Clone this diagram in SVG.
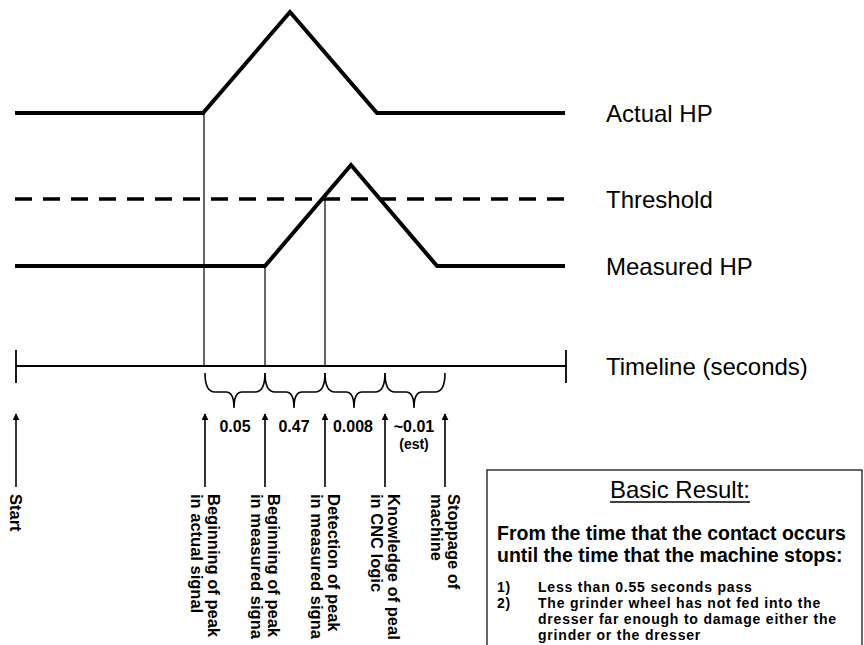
<svg xmlns="http://www.w3.org/2000/svg" width="864" height="645" viewBox="0 0 864 645">
<defs>
<style>
.sig{fill:none;stroke:#000;stroke-width:4;stroke-linejoin:miter}
.thr{fill:none;stroke:#000;stroke-width:3.5;stroke-dasharray:17 11}
.thin{fill:none;stroke:#000;stroke-width:1.2}
.tl{fill:none;stroke:#000;stroke-width:1.8}
.br{fill:none;stroke:#000;stroke-width:1.6}
.arr{fill:none;stroke:#000;stroke-width:1.6;marker-end:url(#ah)}
.lbl{font-family:"Liberation Sans",Arial,sans-serif;font-size:24px;fill:#000}
.val{font-family:"Liberation Sans",Arial,sans-serif;font-size:16px;font-weight:bold;fill:#000;text-anchor:middle}
.vt{font-family:"Liberation Sans",Arial,sans-serif;font-size:16.5px;font-weight:bold;fill:#000}
.bx{font-family:"Liberation Sans",Arial,sans-serif;font-weight:bold;fill:#000}
.li{font-family:"Liberation Sans",Arial,sans-serif;font-weight:bold;fill:#000;font-size:14px;letter-spacing:0.8px}
</style>
<marker id="ah" viewBox="0 0 10 10" refX="9" refY="5" markerWidth="7" markerHeight="7" markerUnits="userSpaceOnUse" orient="auto">
<path d="M0,0 L10,5 L0,10 z" fill="#000"/>
</marker>
</defs>
<rect width="864" height="645" fill="#fff"/>

<g id="actual-hp">
<polyline class="sig" points="15,113 203,113 290,12 377,113 565,113"/>
<text class="lbl" x="606" y="122">Actual HP</text>
</g>
<g id="threshold">
<line class="thr" x1="15" y1="199" x2="565" y2="199"/>
<text class="lbl" x="606" y="208">Threshold</text>
</g>
<g id="measured-hp">
<polyline class="sig" points="15,266 265,266 351,165 437,266 565,266"/>
<text class="lbl" x="606" y="275">Measured HP</text>
</g>
<g id="timeline">
<line class="tl" x1="16" y1="366" x2="566" y2="366"/>
<line class="tl" x1="16" y1="350" x2="16" y2="383"/>
<line class="tl" x1="566" y1="350" x2="566" y2="383"/>
<text class="lbl" x="606" y="375">Timeline (seconds)</text>
</g>

<g id="connectors">
<line class="thin" x1="204" y1="113" x2="204" y2="366"/>
<line class="thin" x1="265" y1="266" x2="265" y2="366"/>
<line class="thin" x1="325" y1="199" x2="325" y2="366"/>
<path class="br" d="M205,373 Q205,392 215,392 L226,392 Q234,392 234,408 Q234,392 242,392 L255,392 Q265,392 265,373"/>
<path class="br" d="M265,373 Q265,392 275,392 L286,392 Q294,392 294,408 Q294,392 302,392 L315,392 Q325,392 325,373"/>
<path class="br" d="M325,373 Q325,392 335,392 L346,392 Q354,392 354,408 Q354,392 362,392 L375,392 Q385,392 385,373"/>
<path class="br" d="M385,373 Q385,392 395,392 L406,392 Q414,392 414,408 Q414,392 422,392 L435,392 Q445,392 445,373"/>
<line class="arr" x1="16" y1="487" x2="16" y2="414"/>
<line class="arr" x1="205" y1="487" x2="205" y2="414"/>
<line class="arr" x1="265" y1="487" x2="265" y2="414"/>
<line class="arr" x1="325" y1="487" x2="325" y2="414"/>
<line class="arr" x1="385" y1="487" x2="385" y2="414"/>
<line class="arr" x1="445" y1="487" x2="445" y2="414"/>
</g>

<g id="intervals">
<text class="val" x="235" y="432">0.05</text>
<text class="val" x="294" y="432">0.47</text>
<text class="val" x="353" y="432">0.008</text>
<text class="val" x="414" y="432">~0.01</text>
<text class="val" x="414" y="449" style="font-size:14px">(est)</text>
</g>

<g id="label-start" transform="translate(10,494) rotate(90)">
<text class="vt" x="0" y="0">Start</text>
</g>
<g id="label-begin-actual" transform="translate(208,494) rotate(90)">
<text class="vt" x="0" y="0">Beginning of peak</text>
<text class="vt" x="0" y="17">in actual signal</text>
</g>
<g id="label-begin-measured" transform="translate(268,494) rotate(90)">
<text class="vt" x="0" y="0">Beginning of peak</text>
<text class="vt" x="0" y="17">in measured signa</text>
</g>
<g id="label-detection" transform="translate(328,494) rotate(90)">
<text class="vt" x="0" y="0">Detection of peak</text>
<text class="vt" x="0" y="17">in measured signa</text>
</g>
<g id="label-knowledge" transform="translate(388,494) rotate(90)">
<text class="vt" x="0" y="0">Knowledge of peal</text>
<text class="vt" x="0" y="17">in CNC logic</text>
</g>
<g id="label-stoppage" transform="translate(448,494) rotate(90)">
<text class="vt" x="0" y="0">Stoppage of</text>
<text class="vt" x="0" y="17">machine</text>
</g>

<g id="basic-result">
<rect x="487" y="470" width="375" height="185" fill="none" stroke="#000" stroke-width="1.2"/>
<text class="lbl" x="680" y="498" text-anchor="middle">Basic Result:</text>
<line x1="610" y1="502" x2="750" y2="502" stroke="#000" stroke-width="1.3"/>
<text class="bx" x="497" y="540" style="font-size:19.5px">From the time that the contact occurs</text>
<text class="bx" x="497" y="562" style="font-size:19.5px">until the time that the machine stops:</text>
<text class="li" x="497" y="592">1)</text>
<text class="li" x="538" y="592">Less than 0.55 seconds pass</text>
<text class="li" x="497" y="608">2)</text>
<text class="li" x="538" y="608">The grinder wheel has not fed into the</text>
<text class="li" x="538" y="624">dresser far enough to damage either the</text>
<text class="li" x="538" y="640">grinder or the dresser</text>
</g>
</svg>
